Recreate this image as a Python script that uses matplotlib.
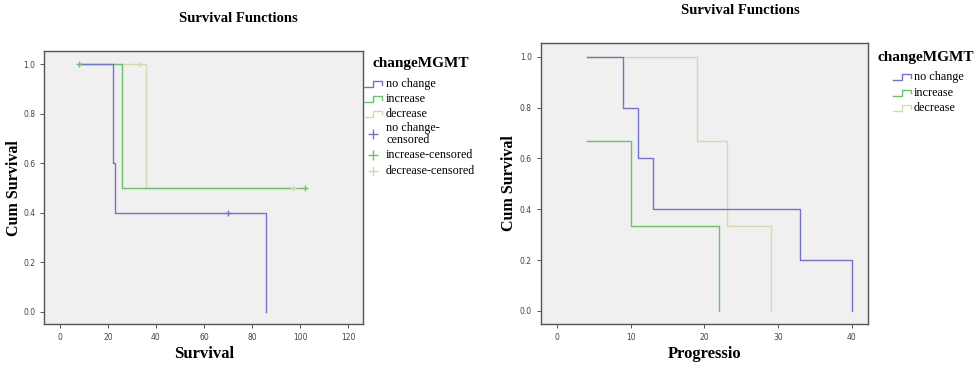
import matplotlib
matplotlib.use("Agg")
import matplotlib.pyplot as plt
from matplotlib.lines import Line2D

plt.rcParams['font.family'] = ['Liberation Serif', 'DejaVu Serif']

# colours used by the SPSS-style chart
C_NOCHANGE = "#7474c4"
C_INCREASE = "#6cbf6c"
C_DECREASE = "#d9d7ae"
BG = "#f0f0f0"

groups = ["no change", "increase", "decrease"]
colors = [C_NOCHANGE, C_INCREASE, C_DECREASE]

# left panel: Survival (step times / cumulative survival)
surv_nochange_t = [8, 22, 23, 86]
surv_nochange_s = [1.0, 0.6, 0.4, 0.0]
surv_increase_t = [8, 26, 102]
surv_increase_s = [1.0, 0.5, 0.5]
surv_decrease_t = [8, 36, 97]
surv_decrease_s = [1.0, 0.5, 0.5]
# censored points
cens_nochange_t = [70]
cens_nochange_s = [0.4]
cens_increase_t = [8, 102]
cens_increase_s = [1.0, 0.5]
cens_decrease_t = [33, 97]
cens_decrease_s = [1.0, 0.5]

# right panel: Progressio
prog_nochange_t = [4, 9, 11, 13, 33, 40]
prog_nochange_s = [1.0, 0.8, 0.6, 0.4, 0.2, 0.0]
prog_increase_t = [4, 10, 22]
prog_increase_s = [0.667, 0.333, 0.0]
prog_decrease_t = [4, 19, 23, 29]
prog_decrease_s = [1.0, 0.667, 0.333, 0.0]

W, H = 980, 366
fig = plt.figure(figsize=(W / 100, H / 100), dpi=100)


def px(x, y):
    return x / W, 1 - y / H


def style_axes(ax):
    ax.set_facecolor(BG)
    for s in ax.spines.values():
        s.set_color("#555555")
        s.set_linewidth(1.0)
    ax.tick_params(direction="out", length=3, width=0.7, color="#555555",
                   labelsize=5.5, labelcolor="#444444")
    for lab in ax.get_xticklabels() + ax.get_yticklabels():
        lab.set_family("DejaVu Sans")
    ax.set_yticks([0.0, 0.2, 0.4, 0.6, 0.8, 1.0])
    ax.set_yticklabels(["0.0", "0.2", "0.4", "0.6", "0.8", "1.0"])
    ax.set_ylabel("Cum Survival", fontsize=11.5, fontweight="bold")


# ---------- left panel ----------
ax1 = fig.add_axes([44.3 / W, 1 - 324.3 / H, (363 - 44.3) / W, (324.3 - 51) / H])
ax1.plot(surv_decrease_t, surv_decrease_s, drawstyle="steps-post", color=C_DECREASE, lw=1)
ax1.plot(surv_increase_t, surv_increase_s, drawstyle="steps-post", color=C_INCREASE, lw=1)
ax1.plot(surv_nochange_t, surv_nochange_s, drawstyle="steps-post", color=C_NOCHANGE, lw=1)
ax1.plot(cens_decrease_t, cens_decrease_s, "+", color=C_DECREASE, ms=5, mew=1)
ax1.plot(cens_increase_t, cens_increase_s, "+", color=C_INCREASE, ms=5, mew=1)
ax1.plot(cens_nochange_t, cens_nochange_s, "+", color=C_NOCHANGE, ms=5, mew=1)
ax1.set_xlim(-6.5, 126.25)
ax1.set_ylim(-0.051, 1.054)
ax1.set_xticks([0, 20, 40, 60, 80, 100, 120])
style_axes(ax1)
ax1.yaxis.set_label_coords(-0.07, 0.5)
ax1.set_xlabel("Survival", fontsize=12, fontweight="bold")
ax1.xaxis.set_label_coords(0.5, -0.08)
fig.text(*px(238, 19), "Survival Functions", ha="center", va="center",
         fontsize=10.5, fontweight="bold")

# ---------- right panel ----------
ax2 = fig.add_axes([541 / W, 1 - 324 / H, (868.3 - 541) / W, (324 - 42.7) / H])
ax2.plot(prog_decrease_t, prog_decrease_s, drawstyle="steps-post", color=C_DECREASE, lw=1)
ax2.plot(prog_increase_t, prog_increase_s, drawstyle="steps-post", color=C_INCREASE, lw=1)
ax2.plot(prog_nochange_t, prog_nochange_s, drawstyle="steps-post", color=C_NOCHANGE, lw=1)
ax2.set_xlim(-2.2, 42.25)
ax2.set_ylim(-0.052, 1.056)
ax2.set_xticks([0, 10, 20, 30, 40])
style_axes(ax2)
ax2.yaxis.set_label_coords(-0.073, 0.5)
ax2.set_xlabel("Progressio", fontsize=12, fontweight="bold")
ax2.xaxis.set_label_coords(0.5, -0.078)
fig.text(*px(740, 11), "Survival Functions", ha="center", va="center",
         fontsize=10.5, fontweight="bold")


# ---------- legends (drawn by hand to get the step icons) ----------
def step_icon(x0, y0, color):
    xs = [x0, x0 + 9, x0 + 9, x0 + 18, x0 + 18]
    ys = [y0 + 3, y0 + 3, y0 - 3, y0 - 3, y0 + 0.5]
    fig.add_artist(Line2D([x / W for x in xs], [1 - y / H for y in ys],
                          color=color, lw=1, transform=fig.transFigure))


def cross_icon(x0, y0, color):
    fig.add_artist(Line2D([x0 / W], [1 - y0 / H], marker="+", ms=7, mew=1,
                          color=color, ls="none", transform=fig.transFigure))


fig.text(*px(372, 64), "changeMGMT", ha="left", va="center", fontsize=11, fontweight="bold")
for i, (g, c) in enumerate(zip(groups, colors)):
    y = 84 + i * 15
    step_icon(364, y, c)
    fig.text(*px(386, y), g, ha="left", va="center", fontsize=8.7)
cross_icon(373, 134, C_NOCHANGE)
fig.text(*px(386, 134), "no change-\ncensored", ha="left", va="center", fontsize=8.7,
         linespacing=0.95)
cross_icon(373, 155, C_INCREASE)
fig.text(*px(386, 155), "increase-censored", ha="left", va="center", fontsize=8.7)
cross_icon(373, 171, C_DECREASE)
fig.text(*px(386, 171), "decrease-censored", ha="left", va="center", fontsize=8.7)

fig.text(*px(877.7, 57), "changeMGMT", ha="left", va="center", fontsize=11, fontweight="bold")
for i, (g, c) in enumerate(zip(groups, colors)):
    y = 77 + i * 15.5
    step_icon(893, y, c)
    fig.text(*px(914, y), g, ha="left", va="center", fontsize=8.7)

fig.savefig("out.png", dpi=100, facecolor="white")
